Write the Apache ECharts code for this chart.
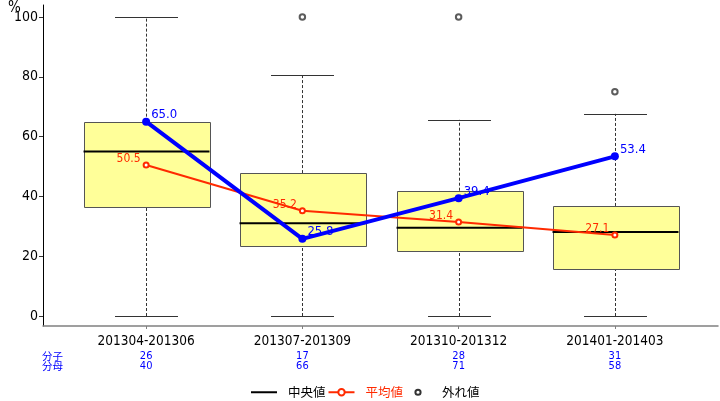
<!DOCTYPE html>
<html><head><meta charset="utf-8">
<script src="https://cdn.jsdelivr.net/npm/echarts@6/dist/echarts.min.js"></script>
<style>html,body{margin:0;padding:0;background:#fff}#c{width:720px;height:401px}</style>
</head><body><div id="c"></div>
<script>
const categories = ['201304-201306','201307-201309','201310-201312','201401-201403'];
const boxMin = [0, 0, 0, 0];
const boxQ1 = [36.5, 23.5, 21.7, 15.7];
const boxMedian = [55.0, 31.0, 29.5, 28.1];
const boxQ3 = [65.0, 47.8, 41.9, 36.8];
const boxMax = [100, 80.6, 65.6, 67.6];
const meanValues = [50.5, 35.2, 31.4, 27.1];
const ratioValues = [65.0, 25.8, 39.4, 53.4];
const numerators = [26, 17, 28, 31];
const denominators = [40, 66, 71, 58];
const outlierCategory = [1, 2, 3];
const outlierValues = [100, 100, 75];
const yTicks = [0, 20, 40, 60, 80, 100];

const NUM_FONT = '"DejaVu Sans Condensed","Liberation Sans",sans-serif';
const JP_FONT = '"Noto Sans CJK JP",sans-serif';
const BOX_W = 0.806;
const catIdx = categories.map((c, i) => i);
const boxData = catIdx.map(i => [i, boxMin[i], boxQ1[i], boxMedian[i], boxQ3[i], boxMax[i]]);
const meanData = catIdx.map(i => [i, meanValues[i]]);
const ratioData = catIdx.map(i => [i, ratioValues[i]]);
const outlierData = outlierCategory.map((c, k) => [c, outlierValues[k]]);

function crisp(v){ return Math.round(v) + 0.5; }

function renderBox(params, api){
  const i = api.value(0);
  const pMin = api.coord([i, api.value(1)]);
  const pQ1 = api.coord([i, api.value(2)]);
  const pMed = api.coord([i, api.value(3)]);
  const pQ3 = api.coord([i, api.value(4)]);
  const pMax = api.coord([i, api.value(5)]);
  const halfW = api.size([BOX_W, 0])[0] / 2;
  const capHalf = halfW / 2;
  const x = crisp(pMin[0]);
  const dash = {stroke:'#333', lineWidth:1, lineDash:[3,2]};
  const solid = {stroke:'#333', lineWidth:1};
  return {type:'group', children:[
    {type:'line', shape:{x1:x, y1:pMin[1], x2:x, y2:pQ1[1]}, style:dash},
    {type:'line', shape:{x1:x, y1:pQ3[1], x2:x, y2:pMax[1]}, style:dash},
    {type:'line', shape:{x1:x-capHalf, y1:crisp(pMin[1]), x2:x+capHalf, y2:crisp(pMin[1])}, style:solid},
    {type:'line', shape:{x1:x-capHalf, y1:crisp(pMax[1]), x2:x+capHalf, y2:crisp(pMax[1])}, style:solid},
    {type:'rect', shape:{x:crisp(x-halfW), y:crisp(pQ3[1]), width:Math.round(2*halfW), height:Math.round(pQ1[1]-pQ3[1])},
      style:{fill:'#ffff99', stroke:'#555', lineWidth:1}},
    {type:'line', shape:{x1:x-halfW, y1:pMed[1], x2:x+halfW, y2:pMed[1]}, style:{stroke:'#000', lineWidth:2}}
  ]};
}

const chart = echarts.init(document.getElementById('c'), null, {renderer:'canvas'});
chart.setOption({
  animation:false,
  backgroundColor:'#fff',
  grid:{left:43, right:2, top:5, bottom:75},
  graphic:[
    {type:'text', left:8, top:1, style:{text:'%', font:'15px ' + NUM_FONT, fill:'#000'}},
    {type:'text', left:42, top:351, style:{text:'分子\n分母', font:'10.5px ' + JP_FONT, lineHeight:10, fill:'#0000ff'}}
  ],
  legend:{
    left:246, top:381, itemWidth:26, itemHeight:8, itemGap:2,
    textStyle:{fontFamily:JP_FONT, fontSize:12.5, color:'#000', padding:[0,0,0,6]},
    data:[
      {name:'中央値', icon:'path://M0,0M26,8M0,3H26V5H0Z', itemStyle:{color:'#000'}},
      {name:'平均値', textStyle:{color:'#ff2a00'}},
      {name:'外れ値', icon:'path://M0,0M26,8M16.6,4A3.6,3.6,0,1,1,9.4,4A3.6,3.6,0,1,1,16.6,4ZM14.6,4A1.6,1.6,0,1,0,11.4,4A1.6,1.6,0,1,0,14.6,4Z',
        itemStyle:{color:'#000', borderWidth:0}}
    ]
  },
  xAxis:{
    type:'value', min:-0.66, max:3.66,
    splitLine:{show:false},
    axisLine:{show:true, onZero:false, lineStyle:{color:'#808080', width:1.5}},
    axisTick:{show:true, length:3, customValues:catIdx, lineStyle:{color:'#808080'}},
    axisLabel:{
      customValues:catIdx, margin:5,
      formatter:(v) => {
        const i = Math.round(v);
        return '{a|' + categories[i] + '}\n{b|' + numerators[i] + '}\n{b|' + denominators[i] + '}';
      },
      rich:{
        a:{fontFamily:NUM_FONT, fontSize:13.5, lineHeight:20, color:'#000'},
        b:{fontFamily:NUM_FONT, fontSize:11, lineHeight:10, color:'#0000ff'}
      }
    }
  },
  yAxis:{
    type:'value', min:-3.34, max:104,
    splitLine:{show:false},
    axisLine:{show:true, onZero:false, lineStyle:{color:'#000', width:1}},
    axisTick:{show:true, length:4, customValues:yTicks, lineStyle:{color:'#333'}},
    axisLabel:{customValues:yTicks, fontFamily:NUM_FONT, fontSize:14, color:'#000', margin:5}
  },
  series:[
    {type:'custom', name:'box', renderItem:renderBox, data:boxData, encode:{x:0, y:[1,2,3,4,5]}, z:1},
    {type:'scatter', name:'外れ値', data:outlierData, symbol:'emptyCircle', symbolSize:5.5,
      itemStyle:{color:'#333', borderWidth:1}, z:3},
    {type:'line', name:'中央値', data:[], symbol:'none', lineStyle:{color:'#000', width:2}, itemStyle:{color:'#000'}},
    {type:'line', name:'平均値', data:meanData, symbol:'emptyCircle', symbolSize:5,
      lineStyle:{color:'#ff2a00', width:2}, itemStyle:{color:'#ff2a00', borderWidth:1.5}, z:4,
      label:{show:true, position:'left', distance:2, offset:[0,-6], formatter:(p) => p.value[1].toFixed(1),
        fontFamily:NUM_FONT, fontSize:12, color:'#ff2a00'}},
    {type:'line', name:'比率', data:ratioData, symbol:'circle', symbolSize:8,
      lineStyle:{color:'#0000ff', width:4}, itemStyle:{color:'#0000ff'}, z:5,
      label:{show:true, position:'right', distance:1, offset:[0,-7], formatter:(p) => p.value[1].toFixed(1),
        fontFamily:NUM_FONT, fontSize:13, color:'#0000ff'}}
  ]
});
</script>
</body></html>
